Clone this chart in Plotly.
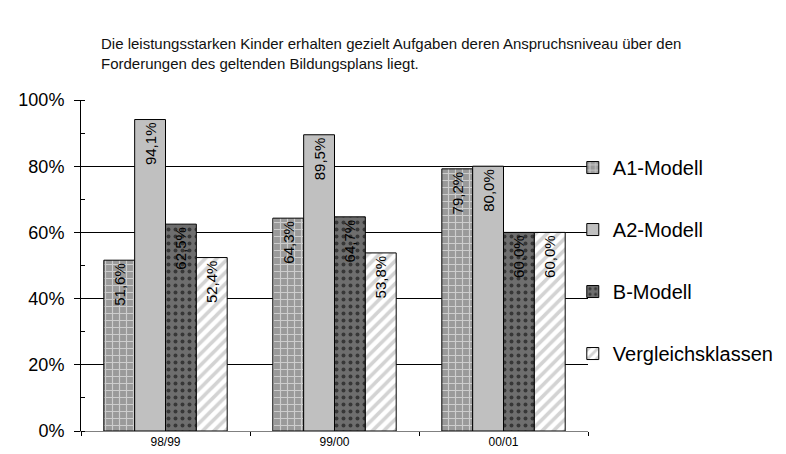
import plotly.graph_objects as go

# Schuljahre und Anteile (in %)
jahre = ["98/99", "99/00", "00/01"]
a1_modell = [51.6, 64.3, 79.2]
a2_modell = [94.1, 89.5, 80.0]
b_modell = [62.5, 64.7, 60.0]
vergleichsklassen = [52.4, 53.8, 60.0]

serien = ["A1-Modell", "A2-Modell", "B-Modell", "Vergleichsklassen"]
y_ticks = [0, 20, 40, 60, 80, 100]
y_labels = ["0%", "20%", "40%", "60%", "80%", "100%"]

titel = ("Die leistungsstarken Kinder erhalten gezielt Aufgaben deren Anspruchsniveau über den<br>"
         "Forderungen des geltenden Bildungsplans liegt.")


def fmt(werte):
    return [f"{v:.1f}%".replace(".", ",") for v in werte]


muster = {
    "A1-Modell": dict(shape="+", bgcolor="#9a9a9a", fgcolor="#ffffff", size=7, solidity=0.3),
    "A2-Modell": dict(shape="", bgcolor="#c0c0c0"),
    "B-Modell": dict(shape=".", bgcolor="#6e6e6e", fgcolor="#000000", size=7, solidity=0.25),
    "Vergleichsklassen": dict(shape="/", bgcolor="#ffffff", fgcolor="#a8a8a8", size=8, solidity=0.45),
}
farben = {"A1-Modell": "#9a9a9a", "A2-Modell": "#c0c0c0", "B-Modell": "#6e6e6e",
          "Vergleichsklassen": "#ffffff"}

fig = go.Figure()
for name, werte in zip(serien, [a1_modell, a2_modell, b_modell, vergleichsklassen]):
    fig.add_trace(go.Bar(
        x=jahre, y=werte, name=name, legendgroup=name,
        text=fmt(werte), textposition="inside", insidetextanchor="end", textangle=-90,
        textfont=dict(size=15, color="black", family="Liberation Sans, Arial"),
        marker=dict(color=farben[name], pattern=muster[name], line=dict(color="black", width=1)),
        cliponaxis=False,
    ))

fig.update_layout(
    width=786, height=454,
    margin=dict(l=73, r=206, t=92, b=31, autoexpand=False),
    paper_bgcolor="white", plot_bgcolor="white",
    font=dict(family="Liberation Sans, Arial", color="black"),
    barmode="group", bargap=0.27, bargroupgap=0,
    uniformtext=dict(minsize=15, mode="show"),
    title=dict(text=titel, x=93 / 786, xanchor="left", xref="container",
               y=1 - 41 / 454, yanchor="top", yref="container",
               font=dict(size=15, color="#111111")),
    legend=dict(x=0.97, xanchor="left", y=0.515, yanchor="middle",
                font=dict(size=20), tracegroupgap=33, bgcolor="rgba(0,0,0,0)"),
    showlegend=True,
)
fig.update_xaxes(
    type="category", showline=True, linecolor="#808080", linewidth=1,
    ticks="outside", tickson="boundaries", ticklen=4, tickcolor="black",
    tickfont=dict(size=12), showgrid=False, automargin=False,
)
fig.update_yaxes(
    range=[0, 100], tickvals=y_ticks, ticktext=y_labels,
    showline=True, linecolor="black", linewidth=1,
    ticks="outside", ticklen=6, tickcolor="black", ticklabelstandoff=6,
    minor=dict(dtick=10, ticks="inside", ticklen=4, tickcolor="black", showgrid=False),
    showgrid=True, gridcolor="black", gridwidth=1, zeroline=False,
    tickfont=dict(size=18), automargin=False,
)

fig.write_html("out.html")
